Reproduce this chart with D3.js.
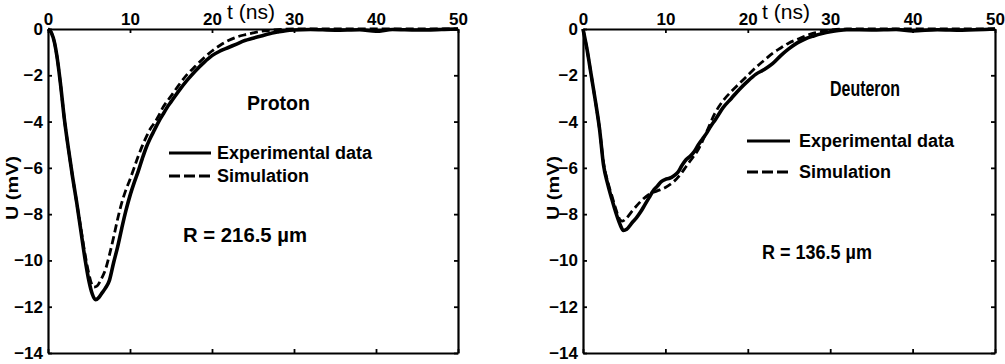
<!DOCTYPE html>
<html>
<head>
<meta charset="utf-8">
<script src="https://cdnjs.cloudflare.com/ajax/libs/d3/7.8.5/d3.min.js"></script>
<style>
    body { margin:0; background:#fff; }
    text { font-family: "Liberation Sans", Arial, sans-serif; fill:#000; }
</style>
</head>
<body>
<div id="chart"></div>
<script>
// axis ticks and texts
var xTicks = [0, 10, 20, 30, 40, 50]
var yTicks = [0, -2, -4, -6, -8, -10, -12, -14]
var legendLabels = ["Experimental data", "Simulation"]
var panelNames = ["Proton", "Deuteron"]
var radiusLabels = ["R = 216.5 \u00b5m", "R = 136.5 \u00b5m"]

// proton, experimental
var protonExpT = [0,0.4,0.8,1.1,1.5,2,2.5,3,3.5,4,4.5,5,5.4,5.8,6.2,6.5,7,7.5,8,8.5,9,9.5,10,10.5,11,11.5,12,12.5,13,13.5,14,14.5,15,16,17,18,19,20,21,22,23,24,25,26,27,28,29,30,32,35,38,40,42,45,48,50]
var protonExpU = [0,-0.15,-0.6,-1.2,-2.3,-3.9,-5.2,-6.4,-7.5,-8.7,-9.9,-10.9,-11.45,-11.7,-11.6,-11.45,-11.2,-10.85,-10.1,-9.4,-8.6,-7.85,-7.2,-6.65,-6.15,-5.6,-5.1,-4.7,-4.35,-4.0,-3.7,-3.4,-3.15,-2.65,-2.2,-1.8,-1.45,-1.15,-0.95,-0.8,-0.65,-0.5,-0.4,-0.3,-0.2,-0.13,-0.07,-0.04,-0.02,-0.05,-0.03,-0.1,-0.02,-0.04,-0.02,0]
// proton, simulation
var protonSimT = [0,0.4,0.8,1.1,1.5,2,2.5,3,3.5,4,4.5,5,5.3,5.6,6,6.5,7,7.5,8,8.5,9,9.5,10,10.5,11,11.5,12,12.5,13,13.5,14,15,16,17,18,19,20,21,22,23,24,25,26,27,28,29,30,50]
var protonSimU = [0,-0.15,-0.6,-1.2,-2.3,-3.9,-5.2,-6.4,-7.5,-8.6,-9.7,-10.6,-11.0,-11.15,-11.1,-10.8,-10.4,-9.75,-9.0,-8.2,-7.5,-6.95,-6.5,-6.0,-5.5,-5.05,-4.65,-4.3,-4.05,-3.75,-3.4,-2.9,-2.4,-1.95,-1.6,-1.25,-0.95,-0.7,-0.5,-0.35,-0.25,-0.17,-0.1,-0.06,-0.03,-0.01,0,0]

// deuteron, experimental
var deuteronExpT = [0,0.5,1,1.5,2,2.5,3,3.5,4,4.5,4.9,5.3,6,6.5,7,7.5,8,8.5,9,9.5,10,10.5,11,11.5,12,12.5,13,13.5,14,14.5,15,15.5,16,17,18,19,20,21,22,23,24,25,26,27,28,29,30,31,32,35,38,40,43,46,50]
var deuteronExpU = [0,-0.9,-2.0,-3.1,-4.3,-5.9,-6.7,-7.35,-7.95,-8.45,-8.7,-8.65,-8.35,-8.15,-7.9,-7.6,-7.3,-7.0,-6.8,-6.6,-6.5,-6.45,-6.35,-6.2,-5.9,-5.65,-5.5,-5.3,-5.0,-4.75,-4.5,-4.2,-3.95,-3.4,-3.0,-2.6,-2.25,-1.95,-1.75,-1.5,-1.15,-0.85,-0.6,-0.42,-0.3,-0.2,-0.12,-0.06,-0.03,-0.04,-0.02,-0.08,-0.03,-0.05,0]
// deuteron, simulation
var deuteronSimT = [0,0.5,1,1.5,2,2.5,3,3.5,4,4.5,4.8,5.2,6,7,8,9,10,11,12,12.5,13,14,15,16,17,18,19,20,21,22,23,24,25,26,27,28,29,30,32,50]
var deuteronSimU = [0,-0.9,-2.0,-3.1,-4.3,-5.8,-6.6,-7.2,-7.8,-8.25,-8.3,-8.2,-7.85,-7.45,-7.15,-7.0,-6.85,-6.6,-6.2,-5.95,-5.7,-5.2,-4.45,-3.65,-3.1,-2.7,-2.35,-2.0,-1.65,-1.35,-1.05,-0.82,-0.6,-0.45,-0.3,-0.18,-0.1,-0.05,0,0]

!(function(){
    "use strict"

    var width = 1005, height = 364
    var top = 29, bottom = 353

    var svg = d3.select("#chart").append("svg")
        .attr("width", width)
        .attr("height", height)

    svg.append("rect").attr("width", width).attr("height", height).attr("fill", "#fff")

    // layout of the two panels
    var panels = [
        { left:48, right:458, exp:[protonExpT, protonExpU], sim:[protonSimT, protonSimU],
          name:{x:247, y:110, size:20, len:63}, r:{x:183, y:242, size:20, len:124},
          legend:{x1:169, x2:211, tx:217, y1:153, y2:176}, ylab:18 },
        { left:583, right:995, exp:[deuteronExpT, deuteronExpU], sim:[deuteronSimT, deuteronSimU],
          name:{x:830, y:96, size:22, len:70}, r:{x:762, y:259, size:20, len:110},
          legend:{x1:747, x2:790, tx:799, y1:141, y2:172}, ylab:559 }
    ]

    panels.forEach(drawPanel)

    function toPoints(s) {
        return s[0].map(function(t, i) { return [t, s[1][i]] })
    }

    function drawPanel(p, i) {
        var x = d3.scaleLinear().domain([0, 50]).range([p.left, p.right])
        var y = d3.scaleLinear().domain([0, -14]).range([top, bottom])

        var line = d3.line()
            .x(function(d) { return x(d[0]) })
            .y(function(d) { return y(d[1]) })
            .curve(d3.curveMonotoneX)

        var g = svg.append("g")

        // curves
        g.append("path")
            .attr("d", line(toPoints(p.exp)))
            .attr("fill", "none")
            .attr("stroke", "#000")
            .attr("stroke-width", 3.6)
            .attr("stroke-linejoin", "round")

        g.append("path")
            .attr("d", line(toPoints(p.sim)))
            .attr("fill", "none")
            .attr("stroke", "#000")
            .attr("stroke-width", 2.8)
            .attr("stroke-dasharray", "8,4")

        // frame with inward ticks
        var axTop = g.append("g").attr("transform", "translate(0," + top + ")")
            .call(d3.axisTop(x).tickValues(xTicks).tickSizeInner(-4).tickSizeOuter(0).tickPadding(4))
        g.append("g").attr("transform", "translate(0," + bottom + ")")
            .call(d3.axisBottom(x).tickValues(xTicks).tickSizeInner(-4).tickSizeOuter(0).tickFormat(""))
        g.append("g").attr("transform", "translate(" + p.left + ",0)")
            .call(d3.axisLeft(y).tickValues(yTicks).tickSizeInner(-4).tickSizeOuter(0).tickPadding(5))
        g.append("g").attr("transform", "translate(" + p.right + ",0)")
            .call(d3.axisRight(y).tickValues(yTicks).tickSizeInner(-4).tickSizeOuter(0).tickFormat(""))

        g.selectAll(".domain").attr("stroke", "#000").attr("stroke-width", 2.2)
        g.selectAll(".tick line").attr("stroke", "#000").attr("stroke-width", 1.8)
        g.selectAll(".tick text")
            .attr("fill", "#000")
            .style("font-size", "17px")
            .style("font-weight", "bold")
            .style("font-family", "'Liberation Sans', Arial, sans-serif")
        axTop.selectAll(".tick text").attr("dy", "0em")

        // axis titles
        g.append("text")
            .attr("x", p.left + 179)
            .attr("y", 18.5)
            .attr("textLength", 48)
            .attr("lengthAdjust", "spacingAndGlyphs")
            .style("font-size", "20px")
            .text("t (ns)")

        g.append("text")
            .attr("transform", "translate(" + p.ylab + "," + 188 + ") rotate(-90)")
            .attr("text-anchor", "middle")
            .attr("textLength", 64)
            .attr("lengthAdjust", "spacingAndGlyphs")
            .style("font-size", "17px")
            .style("font-weight", "bold")
            .text("U (mV)")

        // particle name and radius
        g.append("text")
            .attr("x", p.name.x)
            .attr("y", p.name.y)
            .attr("textLength", p.name.len)
            .attr("lengthAdjust", "spacingAndGlyphs")
            .style("font-size", p.name.size + "px")
            .style("font-weight", "bold")
            .text(panelNames[i])

        g.append("text")
            .attr("x", p.r.x)
            .attr("y", p.r.y)
            .attr("textLength", p.r.len)
            .attr("lengthAdjust", "spacingAndGlyphs")
            .style("font-size", p.r.size + "px")
            .style("font-weight", "bold")
            .text(radiusLabels[i])

        // legend
        var lg = p.legend
        g.append("line")
            .attr("x1", lg.x1).attr("x2", lg.x2).attr("y1", lg.y1).attr("y2", lg.y1)
            .attr("stroke", "#000").attr("stroke-width", 3.2)
        g.append("line")
            .attr("x1", lg.x1).attr("x2", lg.x2).attr("y1", lg.y2).attr("y2", lg.y2)
            .attr("stroke", "#000").attr("stroke-width", 3.2)
            .attr("stroke-dasharray", "11,4")

        g.selectAll(".legendText")
            .data(legendLabels)
            .enter()
            .append("text")
            .attr("class", "legendText")
            .attr("x", lg.tx)
            .attr("y", function(d, k) { return k == 0 ? lg.y1 : lg.y2 })
            .attr("dy", "0.36em")
            .style("font-size", "18px")
            .style("font-weight", "bold")
            .text(function(d) { return d })
    }
}());
</script>
</body>
</html>
